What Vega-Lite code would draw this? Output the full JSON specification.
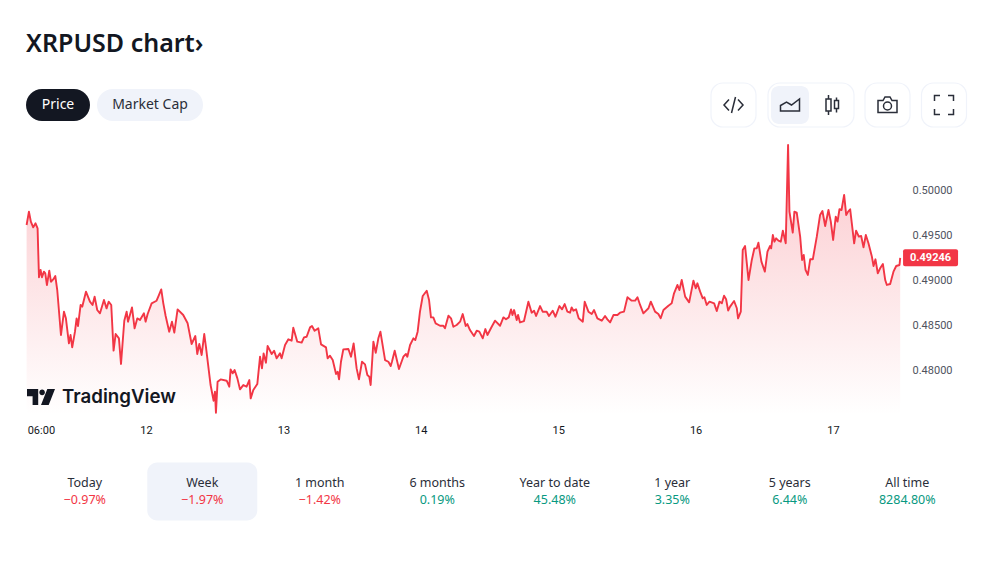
{"$schema":"https://vega.github.io/schema/vega-lite/v6.json","width":1000,"height":563,"padding":0,"autosize":{"type":"none"},"background":"#ffffff","config":{"view":{"stroke":null},"font":"Noto Sans"},
"title":{"text":"XRPUSD chart›","anchor":"start","frame":"group","orient":"top","offset":-57,"dx":26,"fontSize":25,"fontWeight":600,"color":"#131722","font":"Noto Sans"},
"datasets":{
"price":[{"t":11.131,"price":0.49611},{"t":11.148,"price":0.49759},{"t":11.162,"price":0.49648},{"t":11.179,"price":0.49585},{"t":11.196,"price":0.4963},{"t":11.211,"price":0.49574},{"t":11.221,"price":0.4903},{"t":11.233,"price":0.49111},{"t":11.243,"price":0.4903},{"t":11.257,"price":0.49093},{"t":11.267,"price":0.49074},{"t":11.279,"price":0.48944},{"t":11.296,"price":0.49104},{"t":11.308,"price":0.48981},{"t":11.325,"price":0.49007},{"t":11.34,"price":0.49044},{"t":11.354,"price":0.48889},{"t":11.381,"price":0.48389},{"t":11.403,"price":0.48648},{"t":11.417,"price":0.48574},{"t":11.439,"price":0.48296},{"t":11.451,"price":0.48389},{"t":11.463,"price":0.48252},{"t":11.483,"price":0.48426},{"t":11.495,"price":0.48574},{"t":11.505,"price":0.48489},{"t":11.524,"price":0.48722},{"t":11.536,"price":0.48704},{"t":11.563,"price":0.4887},{"t":11.592,"price":0.48759},{"t":11.611,"price":0.48722},{"t":11.626,"price":0.48815},{"t":11.645,"price":0.48667},{"t":11.665,"price":0.4863},{"t":11.694,"price":0.48778},{"t":11.713,"price":0.48685},{"t":11.728,"price":0.48759},{"t":11.747,"price":0.48722},{"t":11.764,"price":0.48215},{"t":11.779,"price":0.484},{"t":11.803,"price":0.48352},{"t":11.818,"price":0.48067},{"t":11.842,"price":0.48548},{"t":11.859,"price":0.48648},{"t":11.869,"price":0.48537},{"t":11.883,"price":0.48611},{"t":11.898,"price":0.48696},{"t":11.917,"price":0.48463},{"t":11.937,"price":0.48574},{"t":11.956,"price":0.48556},{"t":11.985,"price":0.4863},{"t":11.997,"price":0.48537},{"t":12.012,"price":0.48622},{"t":12.041,"price":0.48741},{"t":12.077,"price":0.4877},{"t":12.094,"price":0.48833},{"t":12.111,"price":0.48896},{"t":12.126,"price":0.48741},{"t":12.143,"price":0.486},{"t":12.169,"price":0.48426},{"t":12.189,"price":0.48537},{"t":12.206,"price":0.48415},{"t":12.23,"price":0.48674},{"t":12.271,"price":0.48611},{"t":12.303,"price":0.48519},{"t":12.332,"price":0.48289},{"t":12.359,"price":0.48378},{"t":12.373,"price":0.48178},{"t":12.388,"price":0.48289},{"t":12.405,"price":0.48167},{"t":12.424,"price":0.484},{"t":12.436,"price":0.48259},{"t":12.47,"price":0.47833},{"t":12.492,"price":0.47659},{"t":12.502,"price":0.47759},{"t":12.509,"price":0.47526},{"t":12.521,"price":0.4787},{"t":12.543,"price":0.47896},{"t":12.587,"price":0.47881},{"t":12.606,"price":0.47815},{"t":12.616,"price":0.48007},{"t":12.631,"price":0.47963},{"t":12.645,"price":0.48},{"t":12.665,"price":0.47907},{"t":12.684,"price":0.47785},{"t":12.708,"price":0.47833},{"t":12.732,"price":0.47815},{"t":12.752,"price":0.47889},{"t":12.762,"price":0.47685},{"t":12.781,"price":0.47778},{"t":12.81,"price":0.47844},{"t":12.83,"price":0.48148},{"t":12.844,"price":0.48019},{"t":12.856,"price":0.48185},{"t":12.873,"price":0.48081},{"t":12.885,"price":0.48267},{"t":12.915,"price":0.48178},{"t":12.932,"price":0.48215},{"t":12.951,"price":0.4813},{"t":12.975,"price":0.48185},{"t":12.987,"price":0.4813},{"t":13.012,"price":0.48278},{"t":13.036,"price":0.48341},{"t":13.06,"price":0.48326},{"t":13.072,"price":0.4847},{"t":13.101,"price":0.48315},{"t":13.133,"price":0.48304},{"t":13.15,"price":0.48363},{"t":13.169,"price":0.4837},{"t":13.194,"price":0.48474},{"t":13.208,"price":0.48489},{"t":13.227,"price":0.48437},{"t":13.254,"price":0.48463},{"t":13.274,"price":0.48285},{"t":13.295,"price":0.48266},{"t":13.31,"price":0.48252},{"t":13.322,"price":0.48129},{"t":13.339,"price":0.48159},{"t":13.359,"price":0.48111},{"t":13.383,"price":0.47955},{"t":13.395,"price":0.47981},{"t":13.405,"price":0.47896},{"t":13.419,"price":0.48092},{"t":13.436,"price":0.48229},{"t":13.473,"price":0.48233},{"t":13.492,"price":0.48148},{"t":13.511,"price":0.48296},{"t":13.533,"price":0.48018},{"t":13.55,"price":0.47896},{"t":13.572,"price":0.48092},{"t":13.594,"price":0.48063},{"t":13.611,"price":0.47944},{"t":13.625,"price":0.47926},{"t":13.635,"price":0.47833},{"t":13.655,"price":0.48315},{"t":13.672,"price":0.48192},{"t":13.691,"price":0.48352},{"t":13.706,"price":0.48426},{"t":13.74,"price":0.48111},{"t":13.764,"price":0.48092},{"t":13.781,"price":0.48044},{"t":13.79,"price":0.48092},{"t":13.81,"price":0.48215},{"t":13.841,"price":0.48011},{"t":13.873,"price":0.48148},{"t":13.892,"price":0.48178},{"t":13.902,"price":0.48148},{"t":13.922,"price":0.48278},{"t":13.946,"price":0.48352},{"t":13.96,"price":0.48333},{"t":13.977,"price":0.48426},{"t":13.994,"price":0.48648},{"t":14.014,"price":0.48822},{"t":14.043,"price":0.48881},{"t":14.06,"price":0.48778},{"t":14.074,"price":0.48585},{"t":14.091,"price":0.48585},{"t":14.108,"price":0.48518},{"t":14.14,"price":0.48492},{"t":14.164,"price":0.48492},{"t":14.176,"price":0.48463},{"t":14.201,"price":0.48603},{"t":14.22,"price":0.48574},{"t":14.237,"price":0.48481},{"t":14.261,"price":0.485},{"t":14.286,"price":0.48537},{"t":14.305,"price":0.48622},{"t":14.327,"price":0.48489},{"t":14.339,"price":0.48511},{"t":14.358,"price":0.48444},{"t":14.387,"price":0.48378},{"t":14.407,"price":0.48437},{"t":14.426,"price":0.48426},{"t":14.451,"price":0.48352},{"t":14.47,"price":0.48455},{"t":14.485,"price":0.48389},{"t":14.516,"price":0.48481},{"t":14.54,"price":0.48548},{"t":14.577,"price":0.48492},{"t":14.601,"price":0.48585},{"t":14.62,"price":0.48563},{"t":14.64,"price":0.48585},{"t":14.657,"price":0.48674},{"t":14.667,"price":0.48611},{"t":14.679,"price":0.48666},{"t":14.698,"price":0.48555},{"t":14.708,"price":0.48611},{"t":14.722,"price":0.48529},{"t":14.751,"price":0.48544},{"t":14.783,"price":0.48759},{"t":14.807,"price":0.48637},{"t":14.824,"price":0.48659},{"t":14.839,"price":0.486},{"t":14.868,"price":0.48711},{"t":14.887,"price":0.48648},{"t":14.916,"price":0.48648},{"t":14.933,"price":0.486},{"t":14.96,"price":0.48659},{"t":14.98,"price":0.48592},{"t":15.009,"price":0.48711},{"t":15.028,"price":0.48674},{"t":15.047,"price":0.48733},{"t":15.067,"price":0.48648},{"t":15.086,"price":0.48637},{"t":15.098,"price":0.48696},{"t":15.111,"price":0.48659},{"t":15.13,"price":0.48674},{"t":15.149,"price":0.48574},{"t":15.179,"price":0.48537},{"t":15.193,"price":0.48759},{"t":15.22,"price":0.48648},{"t":15.244,"price":0.48622},{"t":15.261,"price":0.48666},{"t":15.285,"price":0.48574},{"t":15.317,"price":0.48548},{"t":15.341,"price":0.486},{"t":15.358,"price":0.48563},{"t":15.378,"price":0.48529},{"t":15.402,"price":0.48611},{"t":15.431,"price":0.48611},{"t":15.45,"price":0.48637},{"t":15.479,"price":0.48649},{"t":15.504,"price":0.48808},{"t":15.535,"price":0.48771},{"t":15.56,"price":0.48771},{"t":15.577,"price":0.48808},{"t":15.596,"price":0.48723},{"t":15.62,"price":0.4863},{"t":15.657,"price":0.48686},{"t":15.674,"price":0.4876},{"t":15.705,"price":0.48649},{"t":15.729,"price":0.48623},{"t":15.746,"price":0.48575},{"t":15.766,"price":0.48667},{"t":15.802,"price":0.48715},{"t":15.826,"price":0.48741},{"t":15.843,"price":0.48852},{"t":15.868,"price":0.48945},{"t":15.882,"price":0.48889},{"t":15.899,"price":0.49},{"t":15.924,"price":0.48815},{"t":15.953,"price":0.48752},{"t":15.984,"price":0.48993},{"t":16.001,"price":0.48908},{"t":16.013,"price":0.48963},{"t":16.033,"price":0.48871},{"t":16.052,"price":0.48797},{"t":16.064,"price":0.48808},{"t":16.081,"price":0.48723},{"t":16.101,"price":0.4876},{"t":16.135,"price":0.48741},{"t":16.154,"price":0.48656},{"t":16.174,"price":0.4876},{"t":16.191,"price":0.48741},{"t":16.207,"price":0.48826},{"t":16.222,"price":0.48786},{"t":16.237,"price":0.4866},{"t":16.251,"price":0.48704},{"t":16.28,"price":0.48767},{"t":16.3,"price":0.48686},{"t":16.309,"price":0.48575},{"t":16.329,"price":0.48649},{"t":16.343,"price":0.49334},{"t":16.36,"price":0.49378},{"t":16.385,"price":0.49},{"t":16.409,"price":0.49223},{"t":16.428,"price":0.49352},{"t":16.445,"price":0.49352},{"t":16.457,"price":0.49415},{"t":16.479,"price":0.49204},{"t":16.504,"price":0.49093},{"t":16.523,"price":0.49315},{"t":16.542,"price":0.49378},{"t":16.55,"price":0.49352},{"t":16.562,"price":0.495},{"t":16.574,"price":0.49426},{"t":16.586,"price":0.49463},{"t":16.603,"price":0.49437},{"t":16.62,"price":0.49426},{"t":16.635,"price":0.49549},{"t":16.656,"price":0.49408},{"t":16.673,"price":0.505},{"t":16.683,"price":0.4976},{"t":16.707,"price":0.49526},{"t":16.719,"price":0.4976},{"t":16.736,"price":0.49749},{"t":16.761,"price":0.49482},{"t":16.775,"price":0.49223},{"t":16.787,"price":0.49278},{"t":16.8,"price":0.49112},{"t":16.817,"price":0.49056},{"t":16.834,"price":0.4923},{"t":16.853,"price":0.4923},{"t":16.882,"price":0.49482},{"t":16.906,"price":0.49723},{"t":16.923,"price":0.49767},{"t":16.943,"price":0.496},{"t":16.967,"price":0.49778},{"t":16.984,"price":0.49649},{"t":17.001,"price":0.49445},{"t":17.02,"price":0.49704},{"t":17.033,"price":0.49649},{"t":17.047,"price":0.49786},{"t":17.062,"price":0.49778},{"t":17.081,"price":0.49945},{"t":17.096,"price":0.49723},{"t":17.11,"price":0.4976},{"t":17.125,"price":0.49786},{"t":17.137,"price":0.4963},{"t":17.154,"price":0.49408},{"t":17.168,"price":0.49549},{"t":17.188,"price":0.49482},{"t":17.205,"price":0.49489},{"t":17.222,"price":0.49363},{"t":17.239,"price":0.495},{"t":17.258,"price":0.49408},{"t":17.283,"price":0.4926},{"t":17.295,"price":0.49156},{"t":17.309,"price":0.4923},{"t":17.326,"price":0.49075},{"t":17.343,"price":0.4913},{"t":17.363,"price":0.49178},{"t":17.38,"price":0.49},{"t":17.392,"price":0.48945},{"t":17.416,"price":0.48956},{"t":17.44,"price":0.49093},{"t":17.46,"price":0.49156},{"t":17.484,"price":0.49167},{"t":17.489,"price":0.49246}],
"stats":[{"period":"Today","change":"−0.97%","direction":"down"},{"period":"Week","change":"−1.97%","direction":"down"},{"period":"1 month","change":"−1.42%","direction":"down"},{"period":"6 months","change":"0.19%","direction":"up"},{"period":"Year to date","change":"45.48%","direction":"up"},{"period":"1 year","change":"3.35%","direction":"up"},{"period":"5 years","change":"6.44%","direction":"up"},{"period":"All time","change":"8284.80%","direction":"up"}],
"controls":[{"name":"logo","slot":0,"row":1},{"name":"Price","slot":1,"row":0},{"name":"TradingView","slot":2,"row":1},{"name":"Market Cap","slot":3,"row":0},{"name":"code","slot":4,"row":0},{"name":"area","slot":5,"row":0},{"name":"group","slot":6,"row":0},{"name":"candles","slot":7,"row":0},{"name":"camera","slot":8,"row":0},{"name":"fullscreen","slot":9,"row":0}]
},
"resolve":{"scale":{"x":"independent","y":"independent","color":"independent","shape":"independent"},"axis":{"x":"independent","y":"independent"}},
"layer":[
{"data":{"name":"price"},
"encoding":{"x":{"field":"t","type":"quantitative","scale":{"domain":[10.9374,18.2154],"nice":false,"zero":false},"axis":{"values":[11.235,12,13,14,15,16,17],"labelExpr":"datum.value<11.5?'06:00':format(datum.value,'d')","title":null,"grid":false,"domain":false,"ticks":false,"orient":"bottom","offset":-139,"labelPadding":0,"labelFontSize":11,"labelColor":"#131722","labelFont":"Roboto","labelOverlap":false,"labelFlush":false}},
"y":{"field":"price","type":"quantitative","scale":{"domain":[0.45856,0.52111],"nice":false,"zero":false},"axis":{"values":[0.48,0.485,0.49,0.495,0.5],"format":".5f","title":null,"grid":false,"domain":false,"ticks":false,"orient":"right","offset":-88,"labelPadding":0,"labelFontSize":11,"labelColor":"#50535e","labelFont":"Roboto"}}},
"layer":[
{"mark":{"type":"area","fill":{"gradient":"linear","x1":0,"y1":0,"x2":0,"y2":1,"stops":[{"offset":0,"color":"rgba(242,54,69,0.28)"},{"offset":1,"color":"rgba(242,54,69,0)"}]}},"encoding":{"y2":{"datum":0.475}}},
{"mark":{"type":"line","color":"#f23645","strokeWidth":1.9,"strokeJoin":"round"}},
{"transform":[{"filter":"datum.t>17.48"},{"filter":"datum.price>0.4924"}],"mark":{"type":"rect","width":55,"height":17,"cornerRadius":2,"color":"#f23645"},"encoding":{"x":{"datum":17.71}}},
{"transform":[{"filter":"datum.t>17.48"},{"filter":"datum.price>0.4924"}],"mark":{"type":"text","color":"#ffffff","fontSize":11,"fontWeight":"bold","font":"Roboto"},"encoding":{"x":{"datum":17.71},"text":{"field":"price","type":"quantitative","format":".5f"}}}
]},
{"data":{"name":"controls"},
"encoding":{"x":{"field":"slot","type":"quantitative","axis":null,"scale":{"domain":[0,1,2,3,4,5,6,7,8,9],"range":[41,58,62,150,733.5,790,811,832,887.5,944],"zero":false,"nice":false}},"y":{"field":"row","type":"quantitative","axis":null,"scale":{"domain":[0,1],"range":[105,397],"zero":false,"nice":false}}},
"layer":[
{"transform":[{"filter":"datum.name==='code'||datum.name==='camera'||datum.name==='fullscreen'"}],"mark":{"type":"rect","width":45,"height":44,"cornerRadius":12,"fill":"#ffffff","stroke":"#f0f3fa","strokeWidth":1.2}},
{"transform":[{"filter":"datum.name==='group'"}],"mark":{"type":"rect","width":86,"height":44,"cornerRadius":12,"fill":"#ffffff","stroke":"#f0f3fa","strokeWidth":1.2}},
{"transform":[{"filter":"datum.name==='area'"}],"mark":{"type":"rect","width":38,"height":38,"cornerRadius":8,"fill":"#f0f3fa"}},
{"transform":[{"filter":"datum.name==='Price'"}],"mark":{"type":"rect","width":64,"height":32,"cornerRadius":16,"fill":"#131722"}},
{"transform":[{"filter":"datum.name==='Market Cap'"}],"mark":{"type":"rect","width":106,"height":32,"cornerRadius":16,"fill":"#f0f3fa"}},
{"transform":[{"filter":"datum.name==='Price'||datum.name==='Market Cap'"}],"mark":{"type":"text","fontSize":14,"font":"Noto Sans"},"encoding":{"text":{"field":"name"},"color":{"field":"name","type":"nominal","legend":null,"scale":{"domain":["Price","Market Cap"],"range":["#ffffff","#2a2e39"]}}}},
{"transform":[{"filter":"datum.name==='code'||datum.name==='area'||datum.name==='candles'||datum.name==='camera'||datum.name==='fullscreen'"}],"mark":{"type":"point","filled":false,"size":400,"stroke":"#2a2e39","strokeWidth":1.5,"opacity":1},"encoding":{"shape":{"field":"name","type":"nominal","legend":null,"scale":{"domain":["code","area","candles","camera","fullscreen"],"range":["M-0.45,-0.55L-0.95,0L-0.45,0.55M0.2,-0.8L-0.2,0.8M0.45,-0.55L0.95,0L0.45,0.55","M-0.95,0.6L-0.95,0.05L-0.35,-0.3L0.15,0L0.95,-0.6L0.95,0.6Z","M-0.6,-0.6H-0.1V0.6H-0.6ZM-0.35,-1V-0.6M-0.35,0.6V1M0.25,-0.45H0.65V0.35H0.25ZM0.45,-0.75V-0.45M0.45,0.35V0.75","M-0.95,-0.45L-0.45,-0.45L-0.25,-0.8L0.25,-0.8L0.45,-0.45L0.95,-0.45L0.95,0.75L-0.95,0.75ZM-0.4,0.1A0.4,0.4 0 1 0 0.4,0.1A0.4,0.4 0 1 0 -0.4,0.1","M-0.95,-0.4L-0.95,-0.95L-0.4,-0.95M0.4,-0.95L0.95,-0.95L0.95,-0.4M0.95,0.4L0.95,0.95L0.4,0.95M-0.4,0.95L-0.95,0.95L-0.95,0.4"]}}}},
{"transform":[{"filter":"datum.name==='logo'"}],"mark":{"type":"point","filled":true,"size":784,"opacity":1,"color":"#131722","strokeWidth":0,"shape":"M-1,-0.57H-0.2V0.57H-0.6V-0.05H-1ZM-0.12,-0.33A0.2,0.2 0 1 0 0.28,-0.33A0.2,0.2 0 1 0 -0.12,-0.33ZM0.45,-0.57H1L0.55,0.57H0Z"}},
{"transform":[{"filter":"datum.name==='TradingView'"}],"mark":{"type":"text","align":"left","fontSize":18.7,"fontWeight":600,"font":"Inter","color":"#131722"},"encoding":{"text":{"field":"name"}}}
]},
{"data":{"name":"stats"},
"encoding":{"x":{"field":"period","type":"nominal","axis":null,"sort":null,"scale":{"domain":["Today","Week","1 month","6 months","Year to date","1 year","5 years","All time"],"range":[26,966],"paddingInner":0,"paddingOuter":0}}},
"layer":[
{"transform":[{"filter":"datum.period==='Week'"}],"mark":{"type":"rect","width":110,"height":58,"cornerRadius":10,"fill":"#f0f3fa"},"encoding":{"y":{"datum":"tile","type":"nominal","axis":null,"scale":{"type":"point","domain":["name","tile","change"],"range":[483,500],"padding":0}}}},
{"mark":{"type":"text","fontSize":12.5,"font":"Noto Sans","color":"#2a2e39"},"encoding":{"y":{"datum":"name","type":"nominal","axis":null,"scale":{"type":"point","domain":["name","tile","change"],"range":[483,500],"padding":0}},"text":{"field":"period"}}},
{"mark":{"type":"text","fontSize":12.5,"font":"Noto Sans"},"encoding":{"y":{"datum":"change","type":"nominal","axis":null,"scale":{"type":"point","domain":["name","tile","change"],"range":[483,500],"padding":0}},"text":{"field":"change"},"color":{"field":"direction","type":"nominal","legend":null,"scale":{"domain":["down","up"],"range":["#f23645","#089981"]}}}}
]}
]}
